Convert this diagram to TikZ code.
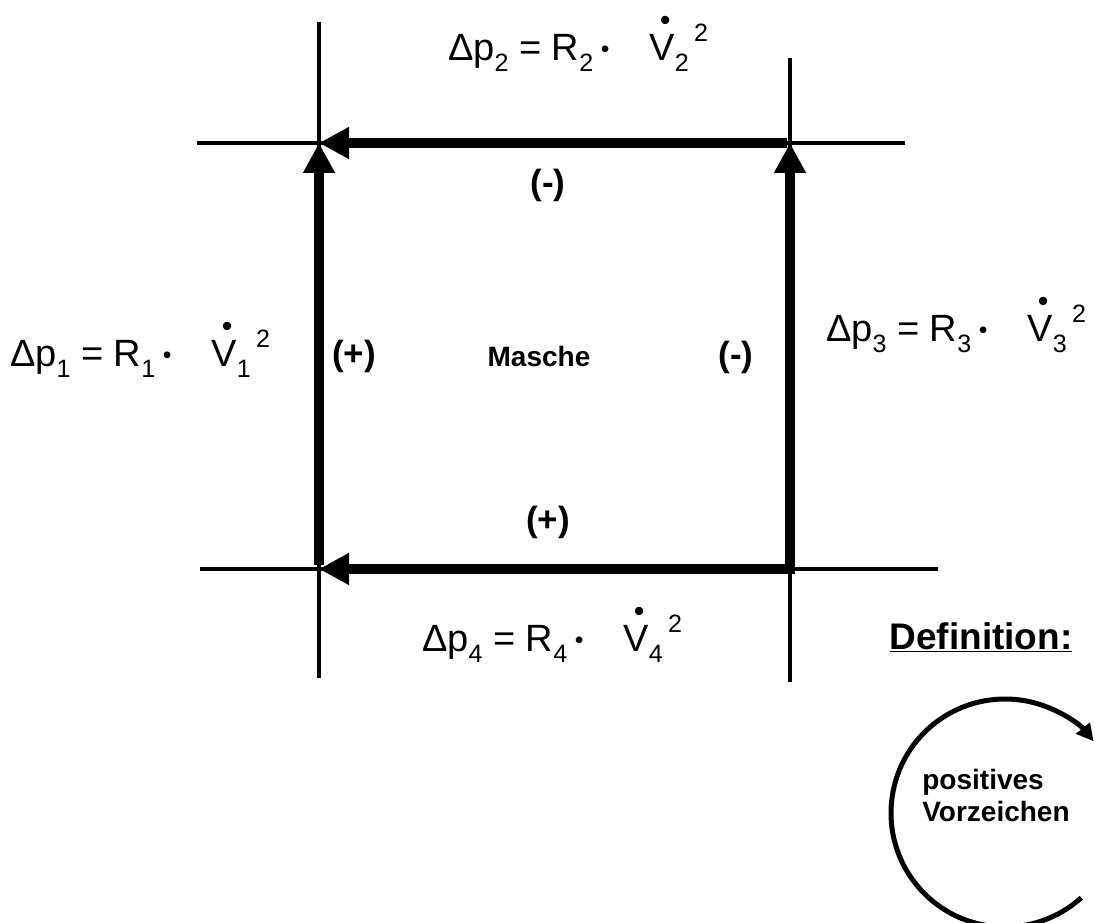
\documentclass[tikz,border=0pt]{standalone}
\usepackage{fontspec}
\setmainfont{Liberation Sans}
\usetikzlibrary{arrows.meta}

% Druckverlust einer Strecke
\newcommand\tief[1]{\raisebox{-0.27em}{\scalebox{0.66}{#1}}}
\newcommand\hoch[1]{\raisebox{0.52em}{\scalebox{0.66}{#1}}}
\newcommand\Vpkt{\makebox[0pt][l]{\hspace{0.27em}\raisebox{0.8em}{\scalebox{0.8}{•}}}V}
\newcommand\verlust[1]{Δp\tief{#1} = R\tief{#1}\hspace{0.2em}\raisebox{0.1em}{\scalebox{0.65}{•}}\hspace{1.05em}\Vpkt\tief{#1}\hspace{0.14em}\hoch{2}}

\tikzset{
  leitung/.style={line width=4pt},
  strom/.style={line width=10pt, -{Triangle[length=30pt,width=30pt]}},
  formel/.style={anchor=base west, inner sep=0pt, font=\fontsize{38}{44}\selectfont},
  zeichen/.style={font=\fontsize{35}{40}\selectfont\bfseries},
}

\begin{document}
\begin{tikzpicture}[x=1pt, y=1pt]
\useasboundingbox (0,0) rectangle (1095,923);

% Knoten der Masche
\coordinate (A) at (319,780);
\coordinate (B) at (790,780);
\coordinate (C) at (790,354);
\coordinate (D) at (319,354);

% Leitungen
\draw[leitung] (319,901) -- (319,245);
\draw[leitung] (790,865) -- (790,241);
\draw[leitung] (197,780) -- (905,780);
\draw[leitung] (200,354) -- (938,354);

% Stroemungsrichtung
\draw[strom] ([xshift=-3pt]B) -- (A);
\draw[strom] ([yshift=-4pt]C) -- (B);
\draw[strom] ([yshift=4pt]D) -- (A);
\draw[strom] ([xshift=5pt]C) -- (D);

% Beschriftung
\node[formel] (p1) at (10,556) {\verlust{1}};
\node[formel] (p2) at (448,862) {\verlust{2}};
\node[formel] (p3) at (826,581) {\verlust{3}};
\node[formel] (p4) at (422,271) {\verlust{4}};

\node[zeichen] (s2) at (548,738) {(-)};
\node[zeichen] (s1) at (354,567) {(+)};
\node[zeichen] (s3) at (736,566) {(-)};
\node[zeichen] (s4) at (548,401) {(+)};
\node[font=\fontsize{28}{32}\selectfont\bfseries] (masche) at (539,566) {Masche};

% Definition
\node[font=\fontsize{37}{42}\selectfont\bfseries] (def) at (981,286) {\underline{Definition:}};
\draw[line width=5pt, -{Triangle[length=17pt,width=17pt]}]
  (1005,110) ++(-48:114) arc[start angle=-48, end angle=-321, radius=114];
\node[font=\fontsize{28}{32}\selectfont\bfseries, align=left] (vz) at (996,128) {positives\\Vorzeichen};
\end{tikzpicture}
\end{document}
